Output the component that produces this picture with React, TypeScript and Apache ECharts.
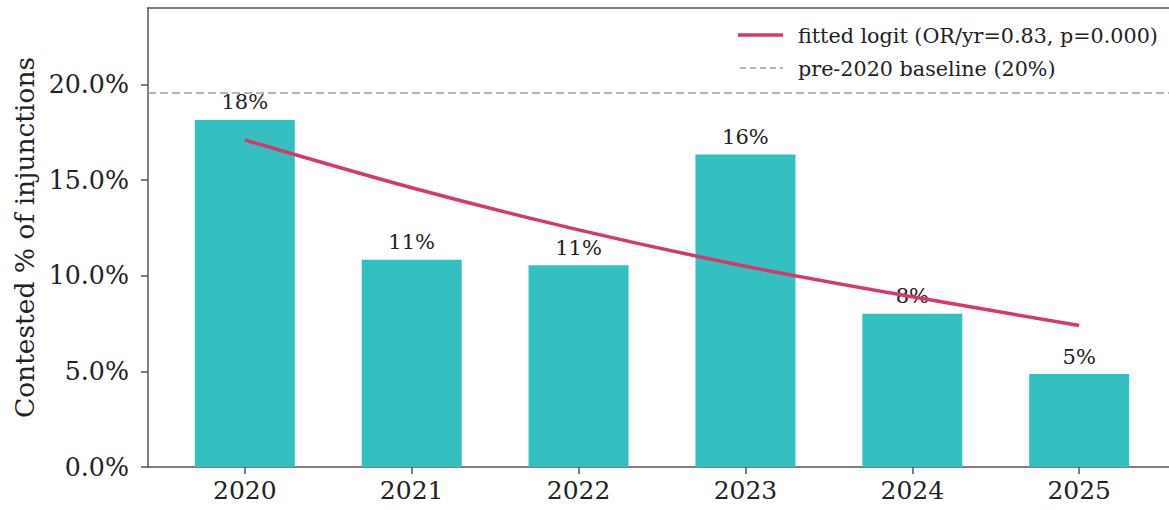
import React, { useEffect, useRef } from "react";
import * as echarts from "echarts";

const years = ["2020", "2021", "2022", "2023", "2024", "2025"];
const contestedPct = [18.15, 10.84, 10.55, 16.34, 8.01, 4.86];
const fittedPct = [17.1, 14.6, 12.4, 10.5, 8.9, 7.4];
const baselinePct = 19.56;
const yTicks = [0, 5, 10, 15, 20];
const xTicks = [0, 1, 2, 3, 4, 5];
const fittedName = "fitted logit (OR/yr=0.83, p=0.000)";
const baselineName = "pre-2020 baseline (20%)";

const FONT = "DejaVu Serif";
const PINK = "#d6386c";
const GRAY = "#95a3aa";

export default function App() {
  const ref = useRef<HTMLDivElement>(null);
  useEffect(() => {
    if (!ref.current) return;
    const chart = echarts.init(ref.current, undefined, { renderer: "svg" });
    const xMin = -0.58;
    const xMax = 5.58;
    chart.setOption({
      animation: false,
      textStyle: { fontFamily: FONT },
      grid: { left: 148, right: 0, top: 8, bottom: 43 },
      graphic: [
        { type: "line", shape: { x1: 738, y1: 35, x2: 783, y2: 35 }, style: { stroke: PINK, lineWidth: 3.5 } },
        {
          type: "text",
          x: 798,
          y: 36,
          style: { text: fittedName, fontFamily: FONT, fontSize: 20.7, fill: "#222", verticalAlign: "middle" },
        },
        {
          type: "line",
          shape: { x1: 740, y1: 68, x2: 783, y2: 68 },
          style: { stroke: GRAY, lineWidth: 1.5, lineDash: [6, 4] },
        },
        {
          type: "text",
          x: 798,
          y: 69,
          style: { text: baselineName, fontFamily: FONT, fontSize: 20.7, fill: "#222", verticalAlign: "middle" },
        },
      ],
      xAxis: [
        {
          type: "value",
          min: xMin,
          max: xMax,
          splitLine: { show: false },
          axisLine: { show: true, onZero: false, lineStyle: { color: "#555", width: 1.5 } },
          axisTick: { show: true, length: 7, customValues: xTicks, lineStyle: { color: "#555", width: 1.5 } },
          axisLabel: {
            customValues: xTicks,
            formatter: (v: number) => years[Math.round(v)] ?? "",
            fontFamily: FONT,
            fontSize: 25,
            color: "#222",
            margin: 11,
          },
        },
        {
          type: "value",
          position: "top",
          min: xMin,
          max: xMax,
          splitLine: { show: false },
          axisLine: { show: true, onZero: false, lineStyle: { color: "#555", width: 1.5 } },
          axisTick: { show: false },
          axisLabel: { show: false },
        },
      ],
      yAxis: {
        type: "value",
        min: 0,
        max: 24,
        name: "Contested % of injunctions",
        nameLocation: "middle",
        nameGap: 96,
        nameTextStyle: { fontFamily: FONT, fontSize: 26.5, color: "#222" },
        splitLine: { show: false },
        axisLine: { show: true, onZero: false, lineStyle: { color: "#555", width: 1.5 } },
        axisTick: { show: true, length: 7, customValues: yTicks, lineStyle: { color: "#555", width: 1.5 } },
        axisLabel: {
          customValues: yTicks,
          formatter: (v: number) => `${v.toFixed(1)}%`,
          fontFamily: FONT,
          fontSize: 25.3,
          color: "#222",
          margin: 19,
        },
      },
      series: [
        {
          type: "bar",
          name: "contested",
          data: contestedPct.map((v, i) => [i, v]),
          barWidth: 100,
          itemStyle: { color: "#34bfc0" },
          label: {
            show: true,
            position: "top",
            distance: 7,
            formatter: (p: any) => `${Math.round(p.value[1])}%`,
            fontFamily: FONT,
            fontSize: 21,
            color: "#222",
          },
          z: 2,
        },
        {
          type: "line",
          name: baselineName,
          data: [
            [xMin, baselinePct],
            [xMax, baselinePct],
          ],
          symbol: "none",
          lineStyle: { color: GRAY, width: 1.5, type: [8, 4] },
          z: 1,
        },
        {
          type: "line",
          name: fittedName,
          data: fittedPct.map((v, i) => [i, v]),
          symbol: "none",
          smooth: 0.3,
          lineStyle: { color: PINK, width: 3.5 },
          z: 3,
        },
      ],
    });
    return () => chart.dispose();
  }, []);
  return (
    <div
      ref={ref}
      style={{ position: "fixed", left: 0, top: 0, width: 1176, height: 510, background: "#fff" }}
    />
  );
}
